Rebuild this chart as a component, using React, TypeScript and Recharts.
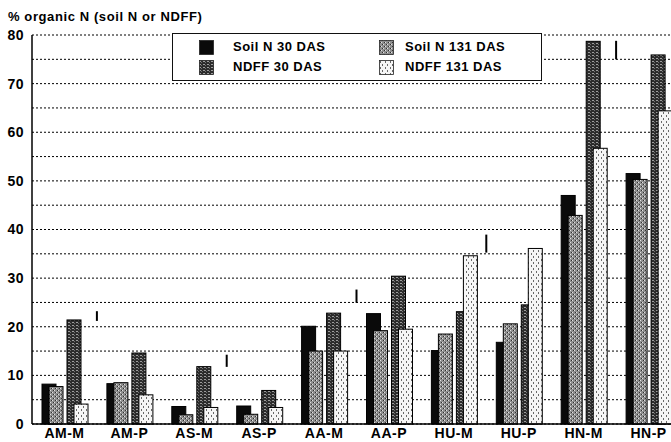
import {
  ComposedChart,
  Bar,
  Scatter,
  ErrorBar,
  XAxis,
  YAxis,
  CartesianGrid,
  Legend,
} from 'recharts'

// treatments on the x axis
const categories = ['AM-M', 'AM-P', 'AS-M', 'AS-P', 'AA-M', 'AA-P', 'HU-M', 'HU-P', 'HN-M', 'HN-P']

// % organic N
const soilN30 = [8.2, 8.3, 3.6, 3.7, 20.1, 22.7, 15.1, 16.8, 47.0, 51.5]
const soilN131 = [7.7, 8.5, 1.9, 2.0, 15.0, 19.2, 18.5, 20.6, 42.9, 50.3]
const ndff30 = [21.4, 14.6, 11.8, 6.9, 22.8, 30.4, 23.1, 24.5, 78.7, 75.9]
const ndff131 = [4.1, 6.0, 3.4, 3.4, 15.0, 19.5, 34.6, 36.1, 56.7, 64.4]

// LSD marks drawn between the M and P bars of each soil
const lsdPos = [1, 3, 5, 7, 9]
const lsdMid = [22.2, 13.0, 26.3, 37.1, 76.9]
const lsdHalf = [1.0, 1.25, 1.35, 1.85, 1.9]

const yTicks = [0, 5, 10, 15, 20, 25, 30, 35, 40, 45, 50, 55, 60, 65, 70, 75, 80]

const data = categories.map((cat, i) => ({
  cat,
  soilN30: soilN30[i],
  soilN131: soilN131[i],
  ndff30: ndff30[i],
  ndff131: ndff131[i],
}))

const lsdData = lsdPos.map((pos, i) => ({ pos, mid: lsdMid[i], half: lsdHalf[i] }))

const FONT = '"Liberation Sans", Arial, sans-serif'

const series = [
  { key: 'soilN30', name: 'Soil N 30 DAS', fill: '#0a0a0a', dx: -5 },
  { key: 'soilN131', name: 'Soil N 131 DAS', fill: 'url(#patSoil131)', dx: -5 },
  { key: 'ndff30', name: 'NDFF 30 DAS', fill: 'url(#patNdff30)', dx: 6 },
  { key: 'ndff131', name: 'NDFF 131 DAS', fill: 'url(#patNdff131)', dx: 6 },
]

// legend: 30 DAS in the left column, 131 DAS in the right one
const legendSlots = [
  { key: 'soilN30', col: 0, row: 0 },
  { key: 'soilN131', col: 1, row: 0 },
  { key: 'ndff30', col: 0, row: 1 },
  { key: 'ndff131', col: 1, row: 1 },
]

function Patterns() {
  return (
    <svg width={0} height={0} style={{ position: 'absolute' }}>
      <defs>
        <pattern id="patSoil131" width={4} height={4} patternUnits="userSpaceOnUse">
          <rect width={4} height={4} fill="#8e8e8e" />
          <rect x={0} y={0} width={1} height={1} fill="#e2e2e2" />
          <rect x={2} y={2} width={1} height={1} fill="#e2e2e2" />
          <rect x={1} y={2} width={1} height={1} fill="#303030" />
          <rect x={3} y={0} width={1} height={1} fill="#303030" />
        </pattern>
        <pattern id="patNdff30" width={4} height={3} patternUnits="userSpaceOnUse">
          <rect width={4} height={3} fill="#2c2c2c" />
          <rect x={0} y={1} width={2} height={1} fill="#9c9c9c" />
          <rect x={2} y={2} width={1} height={1} fill="#6e6e6e" />
        </pattern>
        <pattern id="patNdff131" width={5} height={6} patternUnits="userSpaceOnUse">
          <rect width={5} height={6} fill="#f6f6f6" />
          <rect x={1} y={1} width={1} height={2} fill="#6a6a6a" />
          <rect x={3} y={4} width={1} height={2} fill="#6a6a6a" />
        </pattern>
      </defs>
    </svg>
  )
}

const shiftedBar = (dx: number, fill: string) => (p: any) => (
  <rect x={p.x + dx} y={p.y} width={p.width} height={p.height} fill={fill} stroke="#000" strokeWidth={1} />
)

const YTick = (p: any) => {
  const v = p.payload.value
  if (v % 10 !== 0) return <g />
  return (
    <text x={p.x} y={p.y} dy="0.355em" textAnchor="end" fontFamily={FONT} fontSize={14}
      fontWeight="bold" letterSpacing={0.5} fill="#000">
      {v}
    </text>
  )
}

function LegendBox() {
  return (
    <div style={{
      position: 'relative', width: 370, height: 48, boxSizing: 'border-box',
      border: '1.5px solid #111', background: '#fff', fontFamily: FONT,
    }}>
      {legendSlots.map((slot) => {
        const s = series.find((x) => x.key === slot.key)!
        const cy = slot.row === 0 ? 13 : 33
        const swLeft = slot.col === 0 ? 26 : 206
        const txLeft = slot.col === 0 ? 60 : 232
        return (
          <div key={slot.key}>
            <svg width={15} height={15} style={{ position: 'absolute', left: swLeft, top: cy - 7.5 }}>
              <rect x={0.5} y={0.5} width={14} height={14} fill={s.fill} stroke="#222" strokeWidth={0.8} />
            </svg>
            <div style={{
              position: 'absolute', left: txLeft, top: cy - 8, lineHeight: '16px',
              fontSize: 13, fontWeight: 'bold', letterSpacing: 0.5, color: '#000', whiteSpace: 'nowrap',
            }}>
              {s.name}
            </div>
          </div>
        )
      })}
    </div>
  )
}

export default function App() {
  return (
    <div style={{
      position: 'absolute', left: 0, top: 0, width: 671, height: 442,
      overflow: 'hidden', background: '#fff', fontFamily: FONT,
    }}>
      <Patterns />
      <div style={{
        position: 'absolute', left: 8, top: 10, fontSize: 13, lineHeight: '13px',
        fontWeight: 'bold', letterSpacing: 0.6, color: '#000', whiteSpace: 'nowrap', zIndex: 2,
      }}>
        % organic N (soil N or NDFF)
      </div>
      <ComposedChart width={690} height={442} data={data} barSize={14} barGap={-7}
        margin={{ top: 35, right: 9, bottom: 0, left: 0 }}>
        <CartesianGrid vertical={false} horizontal stroke="#000" strokeWidth={1}
          strokeDasharray="2 2" />
        <XAxis dataKey="cat" height={18} interval={0} tickLine={false} tickSize={2}
          axisLine={{ stroke: '#000', strokeWidth: 1.5 }}
          tick={{ fontFamily: FONT, fontSize: 14, fontWeight: 'bold', fill: '#000', letterSpacing: 0.5 }} />
        <XAxis xAxisId="lsd" type="number" dataKey="pos" domain={[0, 10]} hide />
        <YAxis width={32} domain={[0, 80]} ticks={yTicks} interval={0} tickLine={false}
          axisLine={{ stroke: '#000', strokeWidth: 1.5 }} tick={<YTick />} />
        <Legend layout="horizontal" verticalAlign="middle" align="center"
          wrapperStyle={{ left: 172, top: 33, width: 370, height: 48 }}
          content={() => <LegendBox />} />
        {series.map((s) => (
          <Bar key={s.key} dataKey={s.key} name={s.name} fill={s.fill}
            shape={shiftedBar(s.dx, s.fill)} isAnimationActive={false} />
        ))}
        <Scatter xAxisId="lsd" data={lsdData} dataKey="mid" shape={() => <g />}
          isAnimationActive={false} legendType="none">
          <ErrorBar dataKey="half" direction="y" width={0} stroke="#000" strokeWidth={2} />
        </Scatter>
      </ComposedChart>
    </div>
  )
}
